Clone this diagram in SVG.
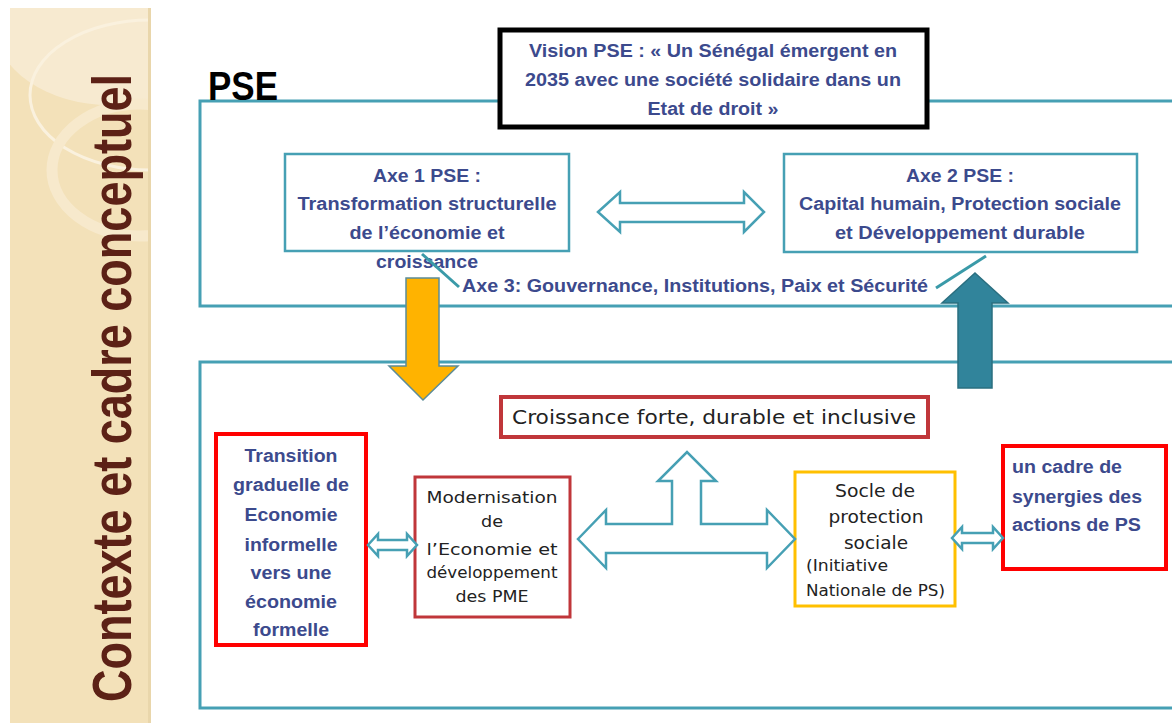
<svg xmlns="http://www.w3.org/2000/svg" width="1172" height="723" viewBox="0 0 1172 723">
<defs>
<style>
.nv{font-family:"Liberation Sans",Arial,sans-serif;font-weight:bold;fill:#3c4a8d;font-size:18px}
.dj{font-family:"DejaVu Sans",Verdana,sans-serif;fill:#222;}
.tealbox{fill:#fff;stroke:#46a0b4;stroke-width:2.5}
.outer{fill:none;stroke:#46a0b4;stroke-width:3}
.arr{fill:#fff;stroke:#46a0b4;stroke-width:2.5;stroke-linejoin:miter}
.conn{stroke:#3a9aa8;stroke-width:3;fill:none}
</style>
<clipPath id="strip"><rect x="10" y="8" width="140" height="715"/></clipPath>
</defs>
<rect width="1172" height="723" fill="#fff"/>
<g id="sidebar">
<rect x="10" y="8" width="140" height="715" fill="#f3e1b9"/>
<g clip-path="url(#strip)">
<ellipse cx="110" cy="25" rx="115" ry="80" fill="#f7ead0"/>
<ellipse cx="150" cy="95" rx="120" ry="75" fill="none" stroke="#faf1de" stroke-width="3"/>
<ellipse cx="140" cy="170" rx="88" ry="66" fill="none" stroke="#f7e9cc" stroke-width="11"/>
</g>
<rect x="148" y="8" width="3" height="715" fill="#e9d6ab"/>
<text transform="translate(131,702) rotate(-90)" font-family="'Liberation Sans',Arial,sans-serif" font-weight="bold" font-size="55" fill="#5c2116" textLength="628" lengthAdjust="spacingAndGlyphs">Contexte et cadre conceptuel</text>
</g>
<g id="frames">
<rect class="outer" x="200" y="101" width="990" height="205"/>
<rect class="outer" x="200" y="362" width="990" height="346"/>
<text x="208" y="100" font-family="'Liberation Sans',Arial,sans-serif" font-weight="bold" font-size="40" fill="#000" textLength="70" lengthAdjust="spacingAndGlyphs">PSE</text>
</g>
<g id="vision">
<rect x="500" y="30" width="427" height="97" fill="#fff" stroke="#000" stroke-width="5"/>
<text class="nv" text-anchor="middle" x="713" y="57" textLength="368" lengthAdjust="spacingAndGlyphs">Vision PSE : « Un Sénégal émergent en</text>
<text class="nv" text-anchor="middle" x="713" y="86" textLength="376" lengthAdjust="spacingAndGlyphs">2035 avec une société solidaire dans un</text>
<text class="nv" text-anchor="middle" x="713" y="115" textLength="131" lengthAdjust="spacingAndGlyphs">Etat de droit »</text>
</g>
<g id="axe1">
<rect class="tealbox" x="285" y="154" width="284" height="97"/>
<text class="nv" text-anchor="middle" x="427" y="182" textLength="108" lengthAdjust="spacingAndGlyphs">Axe 1 PSE :</text>
<text class="nv" text-anchor="middle" x="427" y="210" textLength="259" lengthAdjust="spacingAndGlyphs">Transformation structurelle</text>
<text class="nv" text-anchor="middle" x="427" y="239" textLength="155" lengthAdjust="spacingAndGlyphs">de l’économie et</text>
<text class="nv" text-anchor="middle" x="427" y="268" textLength="102" lengthAdjust="spacingAndGlyphs">croissance</text>
</g>
<g id="axe2">
<rect class="tealbox" x="784" y="154" width="353" height="98"/>
<text class="nv" text-anchor="middle" x="960" y="182" textLength="108" lengthAdjust="spacingAndGlyphs">Axe 2 PSE :</text>
<text class="nv" text-anchor="middle" x="960" y="210" textLength="322" lengthAdjust="spacingAndGlyphs">Capital humain, Protection sociale</text>
<text class="nv" text-anchor="middle" x="960" y="239" textLength="250" lengthAdjust="spacingAndGlyphs">et Développement durable</text>
</g>
<g id="axe3">
<text class="nv" x="462" y="292" textLength="466" lengthAdjust="spacingAndGlyphs">Axe 3: Gouvernance, Institutions, Paix et Sécurité</text>
</g>
<g id="croissance">
<rect x="501" y="397" width="427" height="40" fill="#fff" stroke="#c0363a" stroke-width="4"/>
<text class="dj" text-anchor="middle" x="714" y="424" font-size="19" textLength="404" lengthAdjust="spacingAndGlyphs">Croissance forte, durable et inclusive</text>
</g>
<g id="transition">
<rect x="216" y="434" width="150" height="211" fill="#fff" stroke="#ff0000" stroke-width="4"/>
<g class="nv" text-anchor="middle">
<text x="291" y="462" textLength="93" lengthAdjust="spacingAndGlyphs">Transition</text>
<text x="291" y="491" textLength="116" lengthAdjust="spacingAndGlyphs">graduelle de</text>
<text x="291" y="521" textLength="93" lengthAdjust="spacingAndGlyphs">Economie</text>
<text x="291" y="551" textLength="93" lengthAdjust="spacingAndGlyphs">informelle</text>
<text x="291" y="579" textLength="81" lengthAdjust="spacingAndGlyphs">vers une</text>
<text x="291" y="608" textLength="92" lengthAdjust="spacingAndGlyphs">économie</text>
<text x="291" y="636" textLength="76" lengthAdjust="spacingAndGlyphs">formelle</text>
</g>
</g>
<g id="modernisation">
<rect x="415" y="477" width="155" height="140" fill="#fff" stroke="#c0363a" stroke-width="3"/>
<g class="dj" text-anchor="middle" font-size="16">
<text x="492" y="503" textLength="131" lengthAdjust="spacingAndGlyphs">Modernisation</text>
<text x="492" y="527" textLength="22" lengthAdjust="spacingAndGlyphs">de</text>
<text x="492" y="555" textLength="131" lengthAdjust="spacingAndGlyphs">l’Economie  et</text>
<text x="492" y="578" textLength="131" lengthAdjust="spacingAndGlyphs">développement</text>
<text x="492" y="602" textLength="73" lengthAdjust="spacingAndGlyphs">des PME</text>
</g>
</g>
<g id="socle">
<rect x="795" y="472" width="160" height="134" fill="#fff" stroke="#ffc000" stroke-width="3"/>
<g class="dj" font-size="17">
<text x="875" y="497" text-anchor="middle" textLength="80" lengthAdjust="spacingAndGlyphs">Socle de</text>
<text x="876" y="523" text-anchor="middle" textLength="95" lengthAdjust="spacingAndGlyphs">protection</text>
<text x="876" y="549" text-anchor="middle" textLength="64" lengthAdjust="spacingAndGlyphs">sociale</text>
<text x="806" y="571" font-size="15" textLength="82" lengthAdjust="spacingAndGlyphs">(Initiative</text>
<text x="806" y="596" font-size="15" textLength="139" lengthAdjust="spacingAndGlyphs">Nationale de PS)</text>
</g>
</g>
<g id="cadre">
<rect x="1003" y="446" width="163" height="123" fill="#fff" stroke="#ff0000" stroke-width="4"/>
<g class="nv">
<text x="1012" y="473" textLength="110" lengthAdjust="spacingAndGlyphs">un cadre de</text>
<text x="1012" y="503" textLength="130" lengthAdjust="spacingAndGlyphs">synergies des</text>
<text x="1012" y="531" textLength="129" lengthAdjust="spacingAndGlyphs">actions de PS</text>
</g>
</g>
<g id="connectors">
<polygon class="arr" points="598,212 620,192 620,203 744,203 744,192 764,212 744,232 744,222 620,222 620,232"/>
<polygon class="arr" points="368,545 378,534 378,540 407,540 407,534 417,545 407,556 407,550 378,550 378,556"/>
<polygon class="arr" points="952,538 962,527 962,533 993,533 993,527 1003,538 993,549 993,543 962,543 962,549"/>
<polygon class="arr" points="578,539 606,510 606,524 672,524 672,481 658,481 687,452 716,481 701,481 701,524 767,524 767,510 795,539 767,568 767,553 606,553 606,568"/>
<line class="conn" x1="422" y1="254" x2="459" y2="287"/>
<line class="conn" x1="936" y1="288" x2="986" y2="256"/>
<polygon points="406,278 439,278 439,366 458,366 423,400 389,366 406,366" fill="#ffb300" stroke="#5b8c98" stroke-width="1.5"/>
<polygon points="975,273 1008,303 992,303 992,388 958,388 958,303 942,303" fill="#31849b" stroke="#2a6f80" stroke-width="1.5"/>
</g>
</svg>
